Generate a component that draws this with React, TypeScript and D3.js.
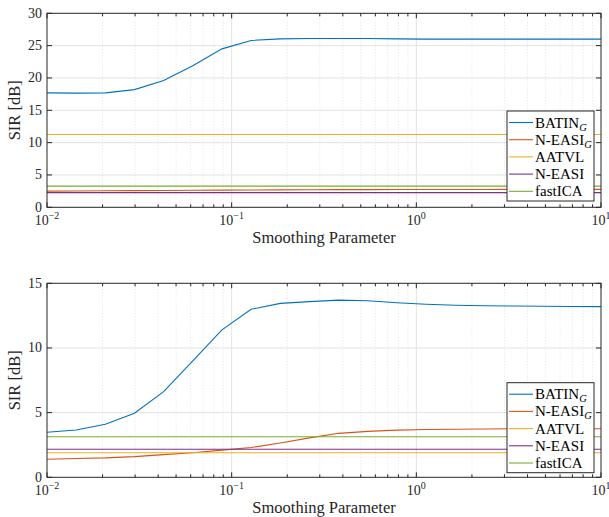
import React from "react";
import * as d3 from "d3";

// smoothing parameter values (log spaced)
const params = [0.01, 0.01438, 0.02069, 0.02976, 0.04281, 0.06158, 0.08859, 0.1274, 0.1833, 0.2637,
  0.3793, 0.5456, 0.7848, 1.129, 1.624, 2.336, 3.360, 4.833, 6.952, 10];

const seriesNames = ["BATIN", "N-EASI", "AATVL", "N-EASI", "fastICA"];
const seriesSubs = ["G", "G", "", "", ""];
const colors = ["#0072BD", "#D95319", "#EDB120", "#7E2F8E", "#77AC30"];

// top panel
const topBatinG = [17.7, 17.65, 17.7, 18.2, 19.6, 21.9, 24.5, 25.8, 26.05, 26.1, 26.1, 26.1, 26.05, 26.0, 26.0, 26.0, 26.0, 26.0, 26.0, 26.0];
const topNeasiG = [2.5, 2.52, 2.55, 2.58, 2.6, 2.63, 2.66, 2.68, 2.7, 2.72, 2.73, 2.74, 2.75, 2.75, 2.76, 2.76, 2.77, 2.77, 2.77, 2.77];
const topAatvl = params.map(() => 11.25);
const topNeasi = params.map(() => 2.27);
const topFastica = params.map(() => 3.27);

// bottom panel
const botBatinG = [3.48, 3.66, 4.1, 4.95, 6.62, 9.0, 11.4, 12.99, 13.45, 13.58, 13.7, 13.65, 13.5, 13.38, 13.3, 13.26, 13.24, 13.22, 13.21, 13.2];
const botNeasiG = [1.4, 1.45, 1.5, 1.6, 1.75, 1.9, 2.1, 2.3, 2.65, 3.05, 3.4, 3.55, 3.65, 3.7, 3.72, 3.74, 3.75, 3.75, 3.75, 3.75];
const botAatvl = params.map(() => 1.9);
const botNeasi = params.map(() => 2.17);
const botFastica = params.map(() => 3.14);

const xTicks = [0.01, 0.1, 1, 10];
const xTickExp = ["-2", "-1", "0", "1"];

const font = "'Liberation Serif', 'DejaVu Serif', serif";
const W = 609;
const H = 517;
const left = 47;
const right = 601;

type PanelProps = {
  top: number;
  bottom: number;
  yMax: number;
  yTicks: number[];
  data: number[][];
  legendTop: number;
};

const Panel = ({ top, bottom, yMax, yTicks, data, legendTop }: PanelProps) => {
  const x = d3.scaleLog().domain([0.01, 10]).range([left, right]);
  const y = d3.scaleLinear().domain([0, yMax]).range([bottom, top]);
  const line = d3
    .line<number>()
    .x((_, i) => x(params[i]))
    .y((d) => y(d));

  const minor: number[] = [];
  [0.01, 0.1, 1].forEach((dec) => {
    for (let k = 2; k <= 9; k++) minor.push(dec * k);
  });

  const legLeft = 507;
  const legRight = 594;
  const rowH = 17.2;

  return (
    <g>
      {/* grid */}
      {yTicks.slice(1, -1).map((t) => (
        <line key={"gy" + t} x1={left} x2={right} y1={y(t)} y2={y(t)} stroke="#e3e3e3" strokeWidth={1} />
      ))}
      {minor.map((t) => (
        <line key={"gm" + t} x1={x(t)} x2={x(t)} y1={top} y2={bottom} stroke="#dcdcdc" strokeWidth={0.8} strokeDasharray="1,2" />
      ))}
      {xTicks.slice(1, -1).map((t) => (
        <line key={"gx" + t} x1={x(t)} x2={x(t)} y1={top} y2={bottom} stroke="#e3e3e3" strokeWidth={1} />
      ))}

      {/* series */}
      {data.map((d, i) => (
        <path key={"s" + i} d={line(d) ?? ""} fill="none" stroke={colors[i]} strokeWidth={1.1} />
      ))}

      {/* ticks */}
      {yTicks.map((t) => (
        <g key={"ty" + t}>
          <line x1={left} x2={left + 5} y1={y(t)} y2={y(t)} stroke="#262626" />
          <line x1={right - 5} x2={right} y1={y(t)} y2={y(t)} stroke="#262626" />
          <text x={left - 5} y={y(t) + 4.5} textAnchor="end" fontSize={14} fill="#262626" fontFamily={font}>
            {t}
          </text>
        </g>
      ))}
      {minor.map((t) => (
        <g key={"tm" + t}>
          <line x1={x(t)} x2={x(t)} y1={bottom} y2={bottom - 3} stroke="#262626" />
          <line x1={x(t)} x2={x(t)} y1={top} y2={top + 3} stroke="#262626" />
        </g>
      ))}
      {xTicks.map((t, i) => (
        <g key={"tx" + t}>
          <line x1={x(t)} x2={x(t)} y1={bottom} y2={bottom - 5} stroke="#262626" />
          <line x1={x(t)} x2={x(t)} y1={top} y2={top + 5} stroke="#262626" />
          <text x={x(t)} y={bottom + 18} textAnchor="middle" fontSize={14} fill="#262626" fontFamily={font}>
            10
            <tspan fontSize={10} dy={-6}>
              {xTickExp[i].replace("-", "\u2212")}
            </tspan>
          </text>
        </g>
      ))}

      <rect x={left} y={top} width={right - left} height={bottom - top} fill="none" stroke="#262626" strokeWidth={1} />

      {/* axis labels */}
      <text x={(left + right) / 2} y={bottom + 36} textAnchor="middle" fontSize={16.5} fill="#262626" fontFamily={font}>
        Smoothing Parameter
      </text>
      <text
        transform={`translate(20,${(top + bottom) / 2}) rotate(-90)`}
        textAnchor="middle"
        fontSize={16.5}
        fill="#262626"
        fontFamily={font}
      >
        SIR [dB]
      </text>

      {/* legend */}
      <rect x={legLeft} y={legendTop} width={legRight - legLeft} height={90} fill="white" stroke="#262626" strokeWidth={1} />
      {seriesNames.map((n, i) => {
        const cy = legendTop + 11.5 + i * rowH;
        return (
          <g key={"l" + i}>
            <line x1={legLeft + 2} x2={legLeft + 26} y1={cy} y2={cy} stroke={colors[i]} strokeWidth={1.1} />
            <text x={legLeft + 28} y={cy + 5} fontSize={15} fill="#000" fontFamily={font}>
              {n}
              {seriesSubs[i] && (
                <tspan fontSize={10.5} fontStyle="italic" dy={3}>
                  {seriesSubs[i]}
                </tspan>
              )}
            </text>
          </g>
        );
      })}
    </g>
  );
};

export default function App() {
  return (
    <svg width={W} height={H} style={{ position: "absolute", left: 0, top: 0, background: "white" }}>
      <Panel
        top={13.3}
        bottom={207.3}
        yMax={30}
        yTicks={[0, 5, 10, 15, 20, 25, 30]}
        data={[topBatinG, topNeasiG, topAatvl, topNeasi, topFastica]}
        legendTop={111}
      />
      <Panel
        top={283.3}
        bottom={477.3}
        yMax={15}
        yTicks={[0, 5, 10, 15]}
        data={[botBatinG, botNeasiG, botAatvl, botNeasi, botFastica]}
        legendTop={382.7}
      />
    </svg>
  );
}
